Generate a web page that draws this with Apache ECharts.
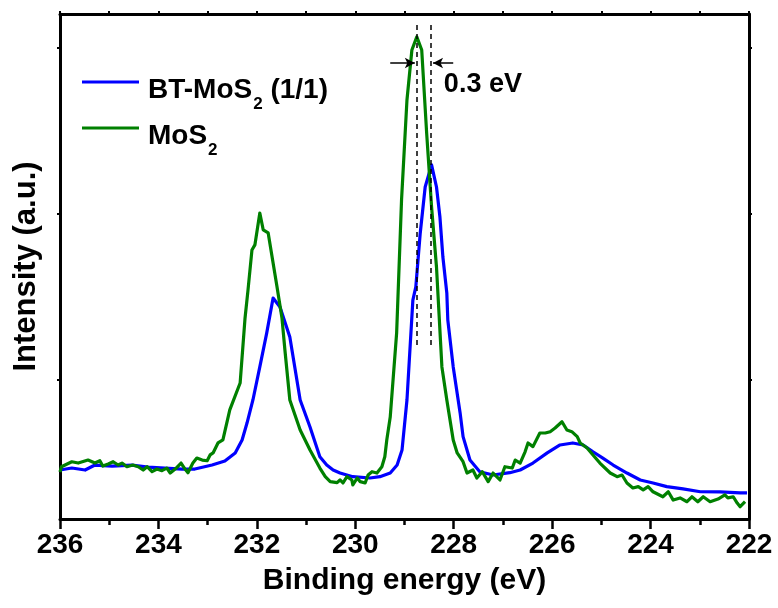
<!DOCTYPE html>
<html>
<head>
<meta charset="utf-8">
<script src="https://cdn.jsdelivr.net/npm/echarts@6/dist/echarts.min.js"></script>
<style>
 html, body { margin: 0; padding: 0; background: #fff; }
 #chart { width: 778px; height: 608px; }
</style>
</head>
<body>
<div id="chart"></div>
<script type="text/javascript">
	// binding energy (eV), intensity (a.u.)
	var btMoS2 = [
		[236.00,0.458],[235.96,0.448],[235.76,0.470],[235.49,0.458],[235.29,0.488],[234.94,0.482],
		[234.54,0.488],[234.21,0.476],[233.87,0.470],[233.52,0.464],[233.26,0.464],[232.91,0.488],
		[232.65,0.512],[232.44,0.561],[232.30,0.639],[232.20,0.741],[232.08,0.880],[231.94,1.079],
		[231.80,1.283],[231.67,1.494],[231.53,1.440],[231.33,1.260],[231.12,0.880],
		[230.92,0.717],[230.72,0.538],[230.58,0.488],[230.45,0.458],[230.31,0.440],[230.05,0.418],
		[229.70,0.410],[229.50,0.418],[229.29,0.440],[229.15,0.488],[229.05,0.579],[228.95,0.880],
		[228.83,1.482],[228.77,1.561],[228.68,1.886],[228.58,2.163],[228.45,2.296],[228.35,2.163],
		[228.28,1.982],[228.22,1.741],[228.14,1.524],[228.12,1.362],[228.01,1.079],[227.87,0.802],
		[227.81,0.659],[227.67,0.518],[227.47,0.448],[227.20,0.428],[226.86,0.442],[226.65,0.458],
		[226.39,0.500],[226.10,0.561],[225.84,0.609],[225.58,0.621],[225.37,0.609],[225.17,0.568],
		[224.97,0.530],[224.76,0.488],[224.48,0.440],[224.21,0.398],[223.95,0.380],[223.67,0.358],
		[223.34,0.344],[222.99,0.327],[222.59,0.326],[222.18,0.320],[222.04,0.320]
	];
	var moS2 = [
		[236.00,0.446],[235.97,0.478],[235.76,0.508],[235.63,0.500],[235.43,0.518],[235.29,0.500],
		[235.19,0.514],[235.13,0.482],[235.02,0.494],[234.92,0.508],[234.82,0.488],[234.74,0.500],
		[234.64,0.478],[234.52,0.488],[234.41,0.478],[234.31,0.458],[234.23,0.478],[234.13,0.448],
		[234.03,0.464],[233.93,0.454],[233.83,0.470],[233.76,0.440],[233.66,0.464],[233.54,0.500],
		[233.46,0.464],[233.40,0.442],[233.30,0.500],[233.22,0.530],[233.11,0.518],[233.01,0.514],
		[232.95,0.549],[232.89,0.561],[232.79,0.621],[232.69,0.639],[232.55,0.820],[232.34,0.982],
		[232.24,1.374],[232.18,1.542],[232.10,1.783],[232.04,1.814],[231.94,2.006],[231.87,1.904],
		[231.77,1.886],[231.69,1.741],[231.59,1.561],[231.49,1.374],[231.43,1.181],[231.33,0.880],
		[231.12,0.699],[230.92,0.579],[230.72,0.470],[230.61,0.418],[230.51,0.388],[230.37,0.382],
		[230.31,0.398],[230.25,0.380],[230.17,0.418],[230.07,0.398],[230.05,0.368],[229.96,0.410],
		[229.90,0.388],[229.80,0.380],[229.74,0.428],[229.66,0.448],[229.56,0.440],[229.46,0.478],
		[229.40,0.538],[229.36,0.639],[229.29,0.777],[229.16,1.283],[229.06,2.085],[228.95,2.687],
		[228.85,2.988],[228.75,3.067],[228.65,2.988],[228.55,2.488],[228.45,2.043],[228.35,1.681],
		[228.24,1.079],[228.14,0.880],[228.01,0.639],[227.93,0.561],[227.81,0.508],[227.73,0.440],
		[227.61,0.458],[227.53,0.410],[227.42,0.448],[227.30,0.388],[227.20,0.440],[227.06,0.398],
		[226.96,0.478],[226.81,0.470],[226.75,0.518],[226.65,0.500],[226.55,0.568],[226.49,0.621],
		[226.39,0.599],[226.25,0.681],[226.14,0.681],[226.04,0.689],[225.94,0.711],[225.80,0.749],
		[225.70,0.699],[225.60,0.689],[225.49,0.659],[225.43,0.621],[225.29,0.591],[225.17,0.549],
		[225.03,0.500],[224.82,0.440],[224.68,0.418],[224.58,0.428],[224.48,0.380],[224.36,0.350],
		[224.25,0.358],[224.15,0.338],[224.05,0.358],[223.95,0.327],[223.75,0.297],[223.64,0.327],
		[223.54,0.277],[223.40,0.290],[223.26,0.267],[223.16,0.297],[223.04,0.267],[222.93,0.297],
		[222.79,0.267],[222.63,0.283],[222.49,0.308],[222.43,0.290],[222.32,0.297],[222.24,0.259],
		[222.18,0.237],[222.08,0.267]
	];
	var seriesNames = ['BT-MoS2 (1/1)', 'MoS2'];
	var xTicks = [236, 222, 2];          // min/max/step shown on the energy axis
	var yTicks = [1, 2, 3];              // unlabeled intensity ticks
	var peakShift = [228.75, 228.46];    // dashed markers, MoS2 and BT-MoS2 peaks
	var shiftText = '0.3 eV';

	var font = '"Liberation Sans", Arial, sans-serif';
	var black = '#000';

	var options = {
		animation: false,
		backgroundColor: '#fff',
		grid: { left: 60, right: 29, top: 14, bottom: 89, containLabel: false },
		legend: {
			orient: 'vertical',
			left: 82,
			top: 68,
			padding: 0,
			itemGap: 1,
			itemWidth: 57,
			itemHeight: 3,
			icon: 'rect',
			data: seriesNames,
			formatter: function (name) {
				return name === 'MoS2' ? '{p|MoS}{s|2}' : '{p|BT-MoS}{s|2}{a| (1/1)}';
			},
			textStyle: {
				rich: {
					p: { fontFamily: font, fontWeight: 'bold', fontSize: 28, lineHeight: 28, color: black, verticalAlign: 'top', padding: [8.5, 0, 0, 4] },
					a: { fontFamily: font, fontWeight: 'bold', fontSize: 28, lineHeight: 28, color: black, verticalAlign: 'top', padding: [8.5, 0, 0, 0] },
					s: { fontFamily: font, fontWeight: 'bold', fontSize: 17, lineHeight: 17, color: black, verticalAlign: 'top', padding: [28, 0, 0, 1] }
				}
			}
		},
		xAxis: [{
			type: 'value',
			position: 'bottom',
			inverse: true,
			min: xTicks[1],
			max: xTicks[0],
			interval: xTicks[2],
			name: 'Binding energy (eV)',
			nameLocation: 'middle',
			nameGap: 47,
			nameTextStyle: { fontFamily: font, fontWeight: 'bold', fontSize: 30, color: black },
			axisLine: { onZero: false, lineStyle: { color: black, width: 3 } },
			axisTick: { inside: false, length: 10, lineStyle: { color: black, width: 2.5 } },
			minorTick: { show: true, splitNumber: 2, length: 6, lineStyle: { color: black, width: 2.5 } },
			axisLabel: { margin: 12, fontFamily: font, fontWeight: 'bold', fontSize: 28, color: black },
			splitLine: { show: false }
		}, {
			type: 'value',
			position: 'top',
			inverse: true,
			min: xTicks[1],
			max: xTicks[0],
			interval: 1,
			axisLine: { onZero: false, lineStyle: { color: black, width: 3 } },
			axisTick: { inside: false, length: 3, lineStyle: { color: black, width: 2 } },
			axisLabel: { show: false },
			splitLine: { show: false }
		}],
		yAxis: [{
			type: 'value',
			position: 'left',
			min: 0.163,
			max: 3.205,
			name: 'Intensity (a.u.)',
			nameLocation: 'middle',
			nameGap: 18,
			nameTextStyle: { fontFamily: font, fontWeight: 'bold', fontSize: 31, color: black },
			axisLine: { show: true, onZero: false, lineStyle: { color: black, width: 3 } },
			axisTick: { show: true, inside: false, length: 3, customValues: yTicks, lineStyle: { color: black, width: 2 } },
			axisLabel: { show: false },
			splitLine: { show: false }
		}, {
			type: 'value',
			position: 'right',
			min: 0.163,
			max: 3.205,
			axisLine: { show: true, onZero: false, lineStyle: { color: black, width: 3 } },
			axisTick: { show: true, inside: false, length: 3, customValues: yTicks, lineStyle: { color: black, width: 2 } },
			axisLabel: { show: false },
			splitLine: { show: false }
		}],
		series: [{
			name: seriesNames[0],
			type: 'line',
			data: btMoS2,
			showSymbol: false,
			symbol: 'none',
			color: '#0000ff',
			lineStyle: { color: '#0000ff', width: 3.2, join: 'round' },
			z: 2
		}, {
			name: seriesNames[1],
			type: 'line',
			data: moS2,
			showSymbol: false,
			symbol: 'none',
			color: '#008000',
			lineStyle: { color: '#008000', width: 3.2, join: 'round' },
			z: 3,
			markLine: {
				silent: true,
				symbol: 'none',
				label: { show: false },
				lineStyle: { color: black, width: 1.5, type: [5, 4] },
				data: [
					[{ coord: [peakShift[0], 1.211] }, { coord: [peakShift[0], 3.139] }],
					[{ coord: [peakShift[1], 1.211] }, { coord: [peakShift[1], 3.139] }],
					[{ coord: [229.29, 2.910], symbol: 'none', lineStyle: { type: 'solid', width: 1.5 } },
					 { coord: [228.79, 2.910], symbol: 'arrow', symbolSize: [8, 10] }],
					[{ coord: [228.01, 2.910], symbol: 'none', lineStyle: { type: 'solid', width: 1.5 } },
					 { coord: [228.42, 2.910], symbol: 'arrow', symbolSize: [8, 10] }]
				]
			},
			markPoint: {
				silent: true,
				symbol: 'circle',
				symbolSize: 0,
				data: [{ coord: [228.2, 2.78] }],
				label: {
					show: true,
					position: 'right',
					distance: 0,
					formatter: shiftText,
					fontFamily: font,
					fontWeight: 'bold',
					fontSize: 27,
					color: black
				}
			}
		}]
	};

	var myChart = echarts.init(document.getElementById('chart'), null, { renderer: 'canvas' });
	myChart.setOption(options);
</script>
</body>
</html>
